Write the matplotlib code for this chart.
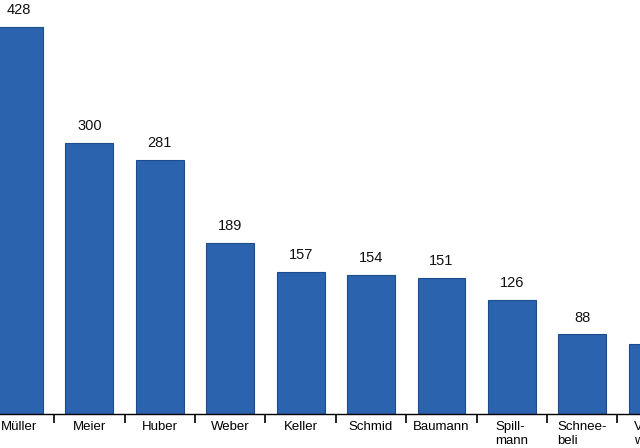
import matplotlib.pyplot as plt
import numpy as np

names = ["Müller", "Meier", "Huber", "Weber", "Keller", "Schmid", "Baumann",
         "Spill-\nmann", "Schnee-\nbeli", "Vogel-\nweid"]
counts = [428, 300, 281, 189, 157, 154, 151, 126, 88, 77]

bar_color = "#2c63ae"
edge_color = "#1d4c8c"

plt.rcParams["font.family"] = ["Liberation Sans", "DejaVu Sans"]

# the picture shows only a crop of the chart: the axes run past the right edge
x_left, x_right_visible, x_right = -0.27, 8.82, 9.6
width_frac = (x_right - x_left) / (x_right_visible - x_left)

fig = plt.figure(figsize=(6.4, 4.48), dpi=100)
ax = fig.add_axes([0, 34 / 448, width_frac, 414 / 448])

x = np.arange(len(names))
bars = ax.bar(x, counts, width=0.68, color=bar_color, edgecolor=edge_color,
              linewidth=0.8)

for xi, v in zip(x, counts):
    ax.annotate(str(v), (xi, v), xytext=(0, 7), textcoords="offset points",
                ha="center", va="bottom", fontsize=10.5, color="#111111")

for side in ["top", "right", "left"]:
    ax.spines[side].set_visible(False)
ax.spines["bottom"].set_color("black")
ax.spines["bottom"].set_linewidth(1.0)

ax.set_yticks([])
ax.set_xticks(x)
ax.set_xticklabels(names, fontsize=9.5, linespacing=1.2, multialignment="left")
ax.tick_params(axis="x", which="major", length=0, pad=5)
ax.set_xticks(x + 0.5, minor=True)
ax.tick_params(axis="x", which="minor", length=6.5, width=1.2, color="black",
               direction="out")

# limits last: set_xticks would widen them otherwise
ax.set_xlim(x_left, x_right)
ax.set_ylim(0, 458)

fig.savefig("out.png", dpi=100)
